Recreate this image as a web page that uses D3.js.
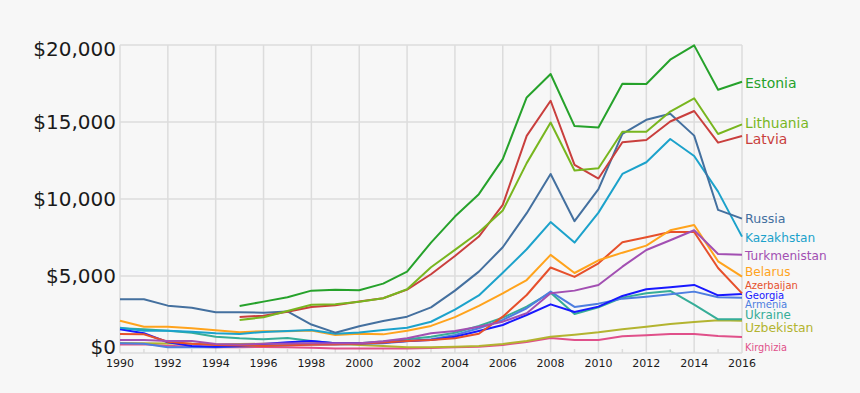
<!DOCTYPE html>
<html>
<head>
<meta charset="utf-8">
<script src="https://cdn.jsdelivr.net/npm/d3@7"></script>
<style>
  html, body { margin: 0; padding: 0; background: #f7f7f7; }
  svg { display: block; font-family: "DejaVu Sans", Verdana, sans-serif; }
</style>
</head>
<body>
<svg id="chart" width="860" height="393"></svg>
<script>
// ---- data (GDP per capita, USD) ----
const years = d3.range(1990, 2017);
const yTicks = [0, 5000, 10000, 15000, 20000];
const xTickLabels = [1990, 1992, 1994, 1996, 1998, 2000, 2002, 2004, 2006, 2008, 2010, 2012, 2014, 2016];

const estonia = [null, null, null, null, null, 3050, 3335, 3620, 4050, 4115, 4075, 4505, 5285, 7170, 8860, 10315, 12590, 16595, 18115, 14735, 14645, 17485, 17465, 19045, 19975, 17095, 17615];
const lithuania = [null, null, null, null, null, 2145, 2320, 2730, 3130, 3165, 3330, 3555, 4140, 5570, 6695, 7845, 9250, 12330, 14970, 11850, 12000, 14365, 14365, 15680, 16540, 14220, 14850];
const latvia = [null, null, null, null, null, 2340, 2425, 2685, 2990, 3100, 3340, 3555, 4115, 5115, 6300, 7560, 9620, 14100, 16380, 12220, 11330, 13685, 13835, 15030, 15715, 13660, 14090];
const russia = [3490, 3490, 3075, 2945, 2645, 2645, 2620, 2700, 1850, 1320, 1735, 2080, 2360, 2960, 4050, 5285, 6865, 9080, 11625, 8560, 10640, 14225, 15145, 15535, 14115, 9290, 8725];
const kazakhstan = [1640, 1450, 1450, 1385, 1280, 1235, 1365, 1430, 1495, 1250, 1330, 1490, 1640, 2030, 2820, 3740, 5205, 6735, 8500, 7170, 9115, 11625, 12385, 13900, 12795, 10480, 7555];
const turkmenistan = [845, 845, 780, 780, 585, 550, 600, 620, 630, 630, 640, 760, 955, 1280, 1430, 1710, 2035, 2580, 3875, 4050, 4420, 5605, 6690, 7320, 7970, 6430, 6385];
const belarus = [2100, 1710, 1700, 1600, 1480, 1340, 1420, 1410, 1460, 1170, 1250, 1210, 1450, 1760, 2330, 3060, 3870, 4740, 6370, 5195, 6020, 6515, 6970, 7970, 8315, 5955, 4955];
const azerbaijan = [1235, 1215, 735, 600, 520, 480, 455, 500, 540, 560, 600, 680, 780, 845, 955, 1250, 2360, 3765, 5550, 4940, 5825, 7190, 7515, 7860, 7860, 5520, 3875];
const georgia = [1540, 1280, 695, 450, 400, 450, 580, 700, 780, 640, 640, 680, 780, 845, 1060, 1430, 1820, 2470, 3160, 2665, 3010, 3705, 4140, 4270, 4420, 3745, 3830];
const armenia = [630, 600, 370, 370, 370, 420, 470, 500, 560, 560, 580, 640, 760, 900, 1170, 1605, 2145, 2905, 3985, 2990, 3205, 3530, 3660, 3810, 3985, 3615, 3595];
const ukraine = [1600, 1540, 1450, 1320, 1060, 955, 890, 980, 780, 630, 630, 740, 890, 1060, 1320, 1755, 2295, 3010, 3920, 2535, 2970, 3595, 3875, 4030, 3140, 2190, 2190];
const uzbekistan = [650, 640, 620, 600, 560, 580, 600, 600, 620, 600, 520, 455, 380, 380, 410, 455, 585, 780, 1060, 1190, 1345, 1540, 1710, 1885, 2015, 2125, 2100];
const kirghizia = [560, 560, 470, 410, 370, 380, 390, 370, 340, 300, 290, 300, 300, 330, 370, 410, 520, 720, 980, 845, 845, 1085, 1150, 1235, 1235, 1105, 1040];

const seriesNames = ["Kirghizia", "Uzbekistan", "Ukraine", "Armenia", "Georgia", "Azerbaijan", "Belarus", "Turkmenistan", "Kazakhstan", "Russia", "Latvia", "Lithuania", "Estonia"];
const seriesValues = [kirghizia, uzbekistan, ukraine, armenia, georgia, azerbaijan, belarus, turkmenistan, kazakhstan, russia, latvia, lithuania, estonia];

// ---- styles ----
const colors = {
  Estonia: "#26a22b", Lithuania: "#78b61f", Latvia: "#c93f3d", Russia: "#44709f",
  Kazakhstan: "#1ca2cb", Turkmenistan: "#a24fb2", Belarus: "#ffa31c", Azerbaijan: "#e6502c",
  Georgia: "#1818ff", Armenia: "#4d7ee0", Ukraine: "#36ad98", Uzbekistan: "#b3b430", Kirghizia: "#e0508a"
};
const labelSize = {
  Estonia: 14, Lithuania: 13.8, Latvia: 13.9, Russia: 12.6, Kazakhstan: 12.2, Turkmenistan: 12.1,
  Belarus: 12.1, Azerbaijan: 10, Georgia: 10, Armenia: 10.1, Ukraine: 11.9, Uzbekistan: 12.4, Kirghizia: 9.8
};
const labelNudge = {
  Estonia: 1, Lithuania: -1, Latvia: 3, Russia: 0, Kazakhstan: 0.5, Turkmenistan: 0.5,
  Belarus: -5, Azerbaijan: -8, Georgia: 1, Armenia: 7, Ukraine: -5, Uzbekistan: 6.5, Kirghizia: 10
};

const svg = d3.select("#chart");
const margin = { left: 120, right: 118, top: 45, bottom: 40 };
const W = 860, H = 393;
const x = d3.scaleLinear().domain([1990, 2016]).range([margin.left, W - margin.right]);
const y = d3.scaleLinear().domain([0, 20000]).range([H - margin.bottom, margin.top]);

svg.append("rect").attr("width", W).attr("height", H).attr("fill", "#f7f7f7");

// grid
const grid = svg.append("g").attr("stroke", "#dcdcdc").attr("stroke-width", 1.5);
grid.selectAll("line.v").data(xTickLabels).join("line")
  .attr("x1", d => x(d)).attr("x2", d => x(d))
  .attr("y1", y(20000)).attr("y2", y(0));
grid.selectAll("line.h").data(yTicks).join("line")
  .attr("x1", x(1990)).attr("x2", x(2016))
  .attr("y1", d => y(d)).attr("y2", d => y(d));
// small ticks at odd years
grid.selectAll("line.t").data(years.filter(d => d % 2 === 1)).join("line")
  .attr("x1", d => x(d)).attr("x2", d => x(d))
  .attr("y1", y(0) - 4).attr("y2", y(0));

// y labels
svg.append("g").selectAll("text").data(yTicks).join("text")
  .attr("x", margin.left - 4)
  .attr("y", d => y(d) + (d === 20000 ? 4 : d === 0 ? -6 : 0))
  .attr("dy", "0.36em")
  .attr("text-anchor", "end")
  .attr("font-size", 20)
  .attr("fill", "#1a1a1a")
  .text(d => "$" + d3.format(",")(d));

// x labels
svg.append("g").selectAll("text").data(xTickLabels).join("text")
  .attr("x", d => x(d))
  .attr("y", y(0) + 14)
  .attr("text-anchor", "middle")
  .attr("font-size", 11)
  .attr("fill", "#1a1a1a")
  .text(d => d);

// lines
const line = d3.line()
  .defined(d => d.v != null)
  .x(d => x(d.year))
  .y(d => y(d.v));

const series = seriesNames.map((name, i) => ({
  name,
  points: years.map((yr, j) => ({ year: yr, v: seriesValues[i][j] }))
}));

svg.append("g").selectAll("path").data(series).join("path")
  .attr("fill", "none")
  .attr("stroke", d => colors[d.name])
  .attr("stroke-width", 2)
  .attr("stroke-linejoin", "round")
  .attr("d", d => line(d.points));

// end labels
svg.append("g").selectAll("text").data(series).join("text")
  .attr("x", x(2016) + 3)
  .attr("y", d => y(d.points[d.points.length - 1].v) + labelNudge[d.name])
  .attr("dy", "0.36em")
  .attr("font-size", d => labelSize[d.name])
  .attr("fill", d => colors[d.name])
  .text(d => d.name);
</script>
</body>
</html>
